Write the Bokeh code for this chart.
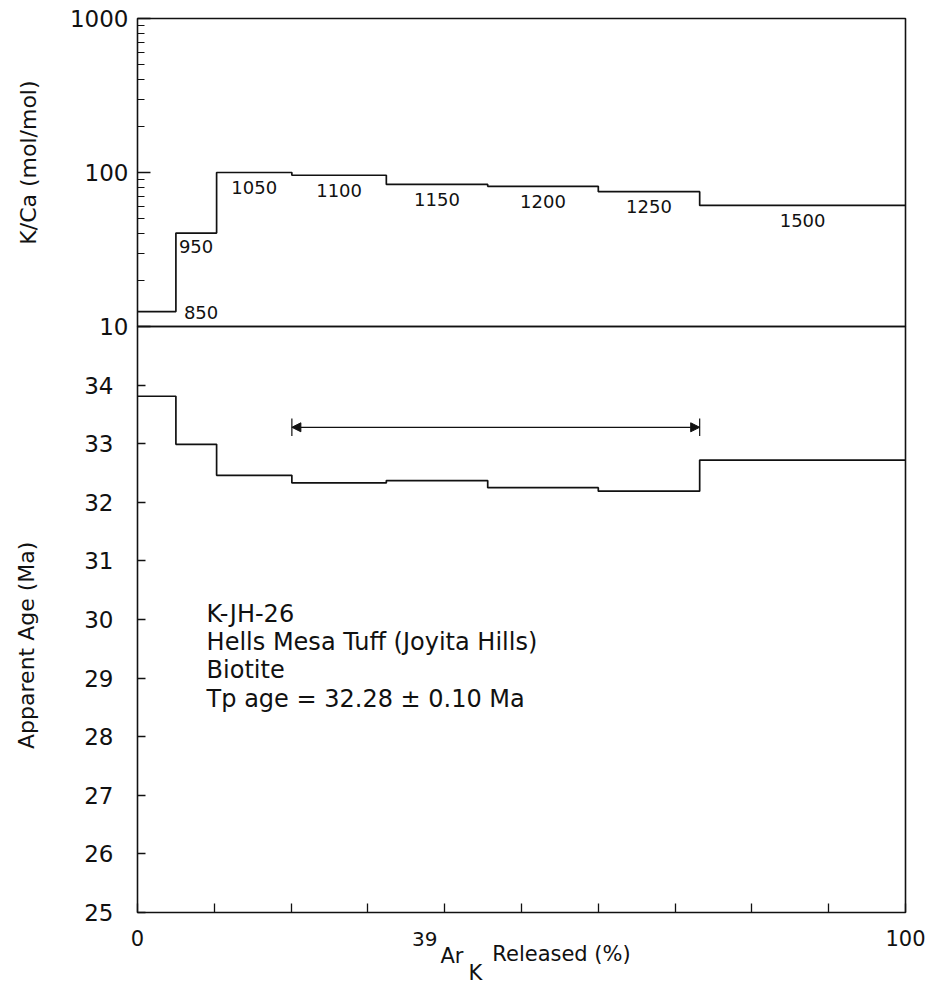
import math
from bokeh.plotting import figure
from bokeh.models import (Range1d, FixedTicker, NumeralTickFormatter, Label,
                          Arrow, NormalHead, LinearAxis, LogAxis, LogScale, BoxAnnotation)
from bokeh.core.properties import value
from bokeh.embed import file_html
from bokeh.resources import INLINE

# ---------------- data ----------------
step_edges = [0, 5.0, 10.3, 20.1, 32.4, 45.6, 60.0, 73.2, 100]      # cumulative 39ArK released (%)
temperatures = ["850", "950", "1050", "1100", "1150", "1200", "1250", "1500"]  # step temperature (C)
k_ca = [12.5, 40.4, 100, 96, 83.7, 81.3, 75.1, 61.1]               # K/Ca (mol/mol)
ages = [33.81, 32.99, 32.46, 32.33, 32.37, 32.25, 32.19, 32.72]     # apparent age (Ma)

plateau_start = 20.1
plateau_end = 73.2
plateau_level = 33.28
plateau_bar_half = 0.15

x_min, x_max = 0, 100
kca_min, kca_max = 10, 1000
age_min, age_max = 25, 35
kca_ticks = [10, 100, 1000]
kca_minor_ticks = [m * 10 ** e for e in (1, 2) for m in range(2, 10)]
age_ticks = [25, 26, 27, 28, 29, 30, 31, 32, 33, 34]
x_ticks = [0, 10, 20, 30, 40, 50, 60, 70, 80, 90, 100]
x_tick_labels = {0: "0", 100: "100"}

sample_lines = ["K-JH-26", "Hells Mesa Tuff (Joyita Hills)", "Biotite",
                "Tp age =  32.28 \u00b1 0.10 Ma"]
sample_line_y = [30.10, 29.61, 29.13, 28.65]

FONT = "DejaVu Sans"
INK = "#111111"

# ---------------- layout (pixels on the canvas) ----------------
W, H = 930, 988
BOX_L, BOX_R = 137, 905                  # plot box left / right
BOX_T, BOX_SPLIT, BOX_B = 18, 326, 912   # top, panel separator, bottom

# ranges extended so that the plot box sits at the pixel positions above
xpu = (BOX_R - BOX_L) / (x_max - x_min)
x_lo = x_min - BOX_L / xpu
x_hi = x_max + (W - BOX_R) / xpu
apx = (age_max - age_min) / (BOX_B - BOX_SPLIT)
age_lo = age_min - (H - BOX_B) * apx
age_hi = age_max + BOX_SPLIT * apx
dpx = math.log10(kca_max / kca_min) / (BOX_SPLIT - BOX_T)
kca_lo = kca_min / 10 ** ((H - BOX_SPLIT) * dpx)
kca_hi = kca_max * 10 ** (BOX_T * dpx)

p = figure(width=W, height=H, x_range=Range1d(x_lo, x_hi), y_range=Range1d(age_lo, age_hi),
           x_axis_location=None, y_axis_location=None, output_backend="svg",
           toolbar_location=None, min_border=0, min_border_left=0, min_border_right=0,
           min_border_top=0, min_border_bottom=0)
p.extra_y_ranges = {"kca": Range1d(kca_lo, kca_hi)}
p.extra_y_scales = {"kca": LogScale()}
p.grid.visible = False
p.outline_line_color = None
p.background_fill_color = "white"
p.border_fill_color = "white"

# plot boxes (upper K/Ca panel, lower age panel)
p.add_layout(BoxAnnotation(left=x_min, right=x_max, bottom=kca_min, top=kca_max,
                           y_range_name="kca", fill_alpha=0, line_color=INK,
                           line_width=1.6, line_alpha=1))
p.add_layout(BoxAnnotation(left=x_min, right=x_max, bottom=age_min, top=age_max,
                           fill_alpha=0, line_color=INK, line_width=1.6, line_alpha=1))

# ---- K/Ca log axis (upper panel)
ya = LogAxis(y_range_name="kca", fixed_location=x_min,
             ticker=FixedTicker(ticks=kca_ticks, minor_ticks=kca_minor_ticks),
             formatter=NumeralTickFormatter(format="0"))
ya.major_tick_in = 13
ya.major_tick_out = 0
ya.minor_tick_in = 7
ya.minor_tick_out = 0
ya.major_tick_line_color = INK
ya.minor_tick_line_color = INK
ya.major_tick_line_width = 1.4
ya.minor_tick_line_width = 1.2
ya.axis_line_color = None
ya.major_label_text_font = FONT
ya.major_label_text_font_size = "23px"
ya.major_label_text_color = INK
ya.major_label_standoff = 9
p.add_layout(ya, "left")

# ---- age linear axis (lower panel)
ya2 = LinearAxis(fixed_location=x_min, ticker=FixedTicker(ticks=age_ticks))
ya2.major_tick_in = 8
ya2.major_tick_out = 0
ya2.minor_tick_in = 0
ya2.minor_tick_out = 0
ya2.major_tick_line_color = INK
ya2.major_tick_line_width = 1.3
ya2.axis_line_color = None
ya2.major_label_text_font = FONT
ya2.major_label_text_font_size = "23px"
ya2.major_label_text_color = INK
ya2.major_label_standoff = 24
p.add_layout(ya2, "left")

# ---- x axis
xa = LinearAxis(fixed_location=age_min, ticker=FixedTicker(ticks=x_ticks))
xa.major_label_overrides = {t: x_tick_labels.get(t, "") for t in x_ticks}
xa.major_tick_in = 9
xa.major_tick_out = 0
xa.minor_tick_in = 0
xa.minor_tick_out = 0
xa.major_tick_line_color = INK
xa.major_tick_line_width = 1.3
xa.axis_line_color = None
xa.major_label_text_font = FONT
xa.major_label_text_font_size = "21px"
xa.major_label_text_color = INK
xa.major_label_standoff = 17
p.add_layout(xa, "below")

# ---- K/Ca steps and temperature labels
p.step(x=step_edges, y=k_ca + [k_ca[-1]], mode="after", line_color=INK, line_width=1.7,
       y_range_name="kca")
mid_x = [(step_edges[i] + step_edges[i + 1]) / 2 for i in range(2, len(k_ca))]
p.text(x=mid_x, y=k_ca[2:], text=temperatures[2:], text_align="center",
       text_baseline="middle", y_offset=15, text_font=value(FONT),
       text_font_size="18px", text_color=INK, y_range_name="kca")
p.text(x=[step_edges[1]], y=[k_ca[0]], text=[temperatures[0]], text_align="left",
       text_baseline="middle", x_offset=8, y_offset=1, text_font=value(FONT),
       text_font_size="18px", text_color=INK, y_range_name="kca")
p.text(x=[step_edges[1]], y=[k_ca[1]], text=[temperatures[1]], text_align="left",
       text_baseline="middle", x_offset=3, y_offset=13, text_font=value(FONT),
       text_font_size="18px", text_color=INK, y_range_name="kca")

# ---- age steps
p.step(x=step_edges, y=ages + [ages[-1]], mode="after", line_color=INK, line_width=1.7)

# plateau arrow with end bars
p.add_layout(Arrow(x_start=plateau_start, y_start=plateau_level,
                   x_end=plateau_end, y_end=plateau_level,
                   start=NormalHead(size=9, fill_color=INK, line_color=INK),
                   end=NormalHead(size=9, fill_color=INK, line_color=INK),
                   line_color=INK, line_width=1.2))
p.segment(x0=[plateau_start, plateau_end], x1=[plateau_start, plateau_end],
          y0=[plateau_level - plateau_bar_half] * 2, y1=[plateau_level + plateau_bar_half] * 2,
          line_color=INK, line_width=1.2)

# sample description
for txt, yv in zip(sample_lines, sample_line_y):
    p.add_layout(Label(x=9, y=yv, text=txt, text_font=FONT, text_font_size="24px",
                       text_baseline="middle", text_align="left", text_color=INK))

# ---- axis titles
p.add_layout(Label(x=x_min, y=116, y_range_name="kca", x_offset=-109, angle=math.pi / 2,
                   text="K/Ca (mol/mol)", text_font=FONT, text_font_size="22px",
                   text_align="center", text_baseline="middle", text_color=INK))
p.add_layout(Label(x=x_min, y=29.56, x_offset=-111, angle=math.pi / 2,
                   text="Apparent Age (Ma)", text_font=FONT, text_font_size="22px",
                   text_align="center", text_baseline="middle", text_color=INK))

# x-axis title: 39Ar_K Released (%)
p.add_layout(Label(x=39.06, y=24.556, text="39", text_font=FONT, text_font_size="20px",
                   text_align="right", text_baseline="middle", text_color=INK))
p.add_layout(Label(x=39.45, y=24.266, text="Ar", text_font=FONT, text_font_size="21px",
                   text_align="left", text_baseline="middle", text_color=INK))
p.add_layout(Label(x=43.1, y=23.96, text="K", text_font=FONT, text_font_size="21px",
                   text_align="left", text_baseline="middle", text_color=INK))
p.add_layout(Label(x=46.2, y=24.30, text="Released (%)", text_font=FONT,
                   text_font_size="21px", text_align="left", text_baseline="middle",
                   text_color=INK))

open("out.html", "w").write(file_html(p, INLINE))
